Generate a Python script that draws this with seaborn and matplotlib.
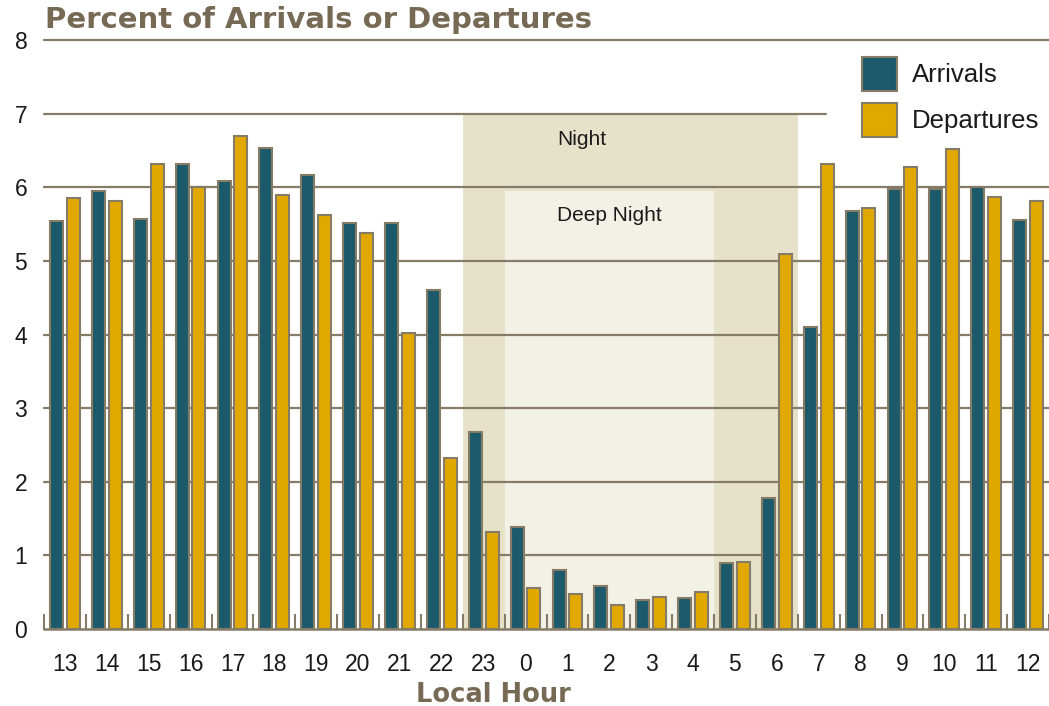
import numpy as np
import pandas as pd
import matplotlib
matplotlib.use("Agg")
import matplotlib.pyplot as plt
import seaborn as sns
from matplotlib.patches import Patch

# ---------------- data ----------------
hours = ['13', '14', '15', '16', '17', '18', '19', '20', '21', '22', '23', '0',
         '1', '2', '3', '4', '5', '6', '7', '8', '9', '10', '11', '12']
arrivals = [5.54, 5.95, 5.57, 6.32, 6.08, 6.53, 6.16, 5.52, 5.51, 4.60, 2.68, 1.39,
            0.80, 0.59, 0.40, 0.42, 0.90, 1.78, 4.10, 5.68, 5.98, 5.98, 6.00, 5.55]
departures = [5.85, 5.82, 6.32, 6.00, 6.70, 5.89, 5.62, 5.38, 4.02, 2.32, 1.32, 0.56,
              0.47, 0.32, 0.43, 0.50, 0.91, 5.09, 6.32, 5.72, 6.28, 6.52, 5.87, 5.81]
series_names = ['Arrivals', 'Departures']
yticks = [0, 1, 2, 3, 4, 5, 6, 7, 8]
night_hours = ('23', '6')
night_top = 7.0
deep_night_hours = ('0', '4')
deep_night_top = 5.95

title = 'Percent of Arrivals or Departures'
xlabel = 'Local Hour'

# ---------------- style ----------------
TEAL = '#1c5a6b'
GOLD = '#e0a800'
EDGE = '#857b67'
GRID = '#857b67'
BROWN = '#766a55'
NIGHT = '#e6e1c9'
DEEP = '#f2f1e6'
TXT = '#1a1a1a'

sns.set_style('white')
plt.rcParams['font.family'] = ['Liberation Sans', 'DejaVu Sans']

df = pd.DataFrame({
    'hour': hours * 2,
    'series': [series_names[0]] * len(hours) + [series_names[1]] * len(hours),
    'value': arrivals + departures,
})

fig = plt.figure(figsize=(10.49, 7.06), dpi=100)
ax = fig.add_axes([44 / 1049, 77 / 706, 1005 / 1049, 589 / 706])

sns.barplot(data=df, x='hour', y='value', hue='series', order=hours,
            hue_order=series_names, palette={series_names[0]: TEAL, series_names[1]: GOLD},
            saturation=1, width=0.8, gap=0.22, edgecolor=EDGE, linewidth=1.5,
            errorbar=None, legend=False, ax=ax)

# night shading
n0 = hours.index(night_hours[0]) - 0.5
n1 = hours.index(night_hours[1]) + 0.5
d0 = hours.index(deep_night_hours[0]) - 0.5
d1 = hours.index(deep_night_hours[1]) + 0.5
ax.fill_between([n0, n1], 0, night_top, color=NIGHT, lw=0, zorder=0.2)
ax.fill_between([d0, d1], 0, deep_night_top, color=DEEP, lw=0, zorder=0.3)
ax.text((n0 + n1) / 2 - 1.15, night_top - 0.35, 'Night', ha='center', va='center',
        fontsize=15, color=TXT)
ax.text((d0 + d1) / 2 + 0.0, deep_night_top - 0.33, 'Deep Night', ha='center', va='center',
        fontsize=15, color=TXT)

ax.set_xlim(-0.5, 23.33)
ax.set_ylim(0, 8)

# horizontal rules
for v in yticks[1:]:
    ax.axhline(v, xmin=0, xmax=(0.778 if v == 7 else 1), color=GRID, lw=1.6,
               zorder=0.6, clip_on=False)

for s in ['left', 'top', 'right']:
    ax.spines[s].set_visible(False)
ax.spines['bottom'].set_color(GRID)
ax.spines['bottom'].set_linewidth(1.8)

ax.set_yticks(yticks)
ax.set_yticklabels([str(v) for v in yticks])
ax.tick_params(axis='y', length=0, pad=12, labelsize=16.5, labelcolor=TXT)
ax.tick_params(axis='x', which='major', length=0, pad=17, labelsize=16.5, labelcolor=TXT)
ax.set_xticks(np.arange(-0.5, len(hours), 1), minor=True)
ax.tick_params(axis='x', which='minor', bottom=True, direction='in', length=10.8,
               width=1.5, color=GRID)

ax.set_ylabel('')
ax.set_xlabel(xlabel, fontsize=18.5, fontweight='bold', family='DejaVu Sans', color=BROWN)
ax.xaxis.set_label_coords(0.447, -0.112)
ax.xaxis.label.set_va('center')

fig.text(45 / 1049, 1 - 20 / 706, title, fontsize=21, fontweight='bold',
         family='DejaVu Sans', color=BROWN, ha='left', va='center')

handles = [Patch(facecolor=TEAL, edgecolor=EDGE, linewidth=1.5, label=series_names[0]),
           Patch(facecolor=GOLD, edgecolor=EDGE, linewidth=1.5, label=series_names[1])]
ax.legend(handles=handles, loc='upper left', bbox_to_anchor=(862 / 1049, 1 - 57 / 706),
          bbox_transform=fig.transFigure, frameon=False, borderpad=0, borderaxespad=0,
          fontsize=18.5, handlelength=1.35, handleheight=1.65, handletextpad=0.6,
          labelspacing=0.47, labelcolor=TXT)

fig.savefig('out.png', dpi=100)
